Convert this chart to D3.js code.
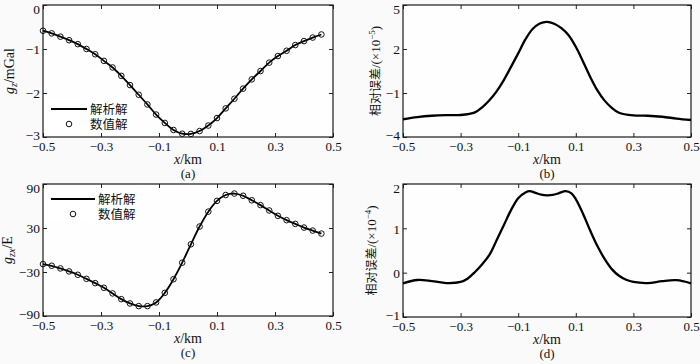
<!DOCTYPE html>
<html><head><meta charset="utf-8">
<script src="https://cdn.jsdelivr.net/npm/d3@7"></script>
<style>
html,body{margin:0;padding:0;background:#fafafa;}
svg{display:block;}
text{font-family:"Liberation Serif","Times New Roman",serif;fill:#111;}
.cjk{font-family:"Noto Sans CJK SC","Noto Sans",sans-serif;}
</style></head>
<body>
<svg id="chart" width="700" height="364"></svg>
<script>
// ---- data ----
const xTicks = [-0.5, -0.3, -0.1, 0.1, 0.3, 0.5];
const xTickLabels = ["−0.5", "−0.3", "−0.1", "0.1", "0.3", "0.5"];

const gzTicks = [0, -1, -2, -3];
const gzTickLabels = ["0", "−1", "−2", "−3"];
const errBTicks = [5, 2, -1, -4];
const errBTickLabels = ["5", "2", "−1", "−4"];
const gzxTicks = [90, 30, -30, -90];
const gzxTickLabels = ["90", "30", "−30", "−90"];
const errDTicks = [2, 1, 0, -1];
const errDTickLabels = ["2", "1", "0", "−1"];

const sampleX = [-0.50, -0.47, -0.44, -0.41, -0.38, -0.35, -0.32, -0.29, -0.26, -0.23, -0.20,
  -0.17, -0.14, -0.11, -0.08, -0.05, -0.02, 0.01, 0.04, 0.07, 0.10, 0.13, 0.16, 0.19, 0.22,
  0.25, 0.28, 0.31, 0.34, 0.37, 0.40, 0.43, 0.46];

// g_z (mGal): analytic and numeric
const gzAnalytic = [-0.585, -0.645, -0.72, -0.80, -0.89, -1.00, -1.12, -1.27, -1.42, -1.61, -1.82,
  -2.04, -2.26, -2.49, -2.68, -2.84, -2.925, -2.93, -2.865, -2.74, -2.57, -2.35, -2.13, -1.90,
  -1.69, -1.50, -1.31, -1.16, -1.04, -0.91, -0.82, -0.74, -0.67];
const gzNumeric = [-0.585, -0.645, -0.72, -0.80, -0.89, -1.00, -1.12, -1.27, -1.42, -1.61, -1.82,
  -2.04, -2.26, -2.49, -2.68, -2.84, -2.925, -2.93, -2.865, -2.74, -2.57, -2.35, -2.13, -1.90,
  -1.69, -1.50, -1.31, -1.16, -1.04, -0.91, -0.82, -0.74, -0.67];

// g_zx (E): analytic and numeric
const gzxAnalytic = [-19.2, -21.5, -25.1, -29.2, -33.8, -39.3, -45.2, -51.5, -59.2, -67.0, -72.9,
  -76.5, -76.5, -71.5, -58.5, -39.8, -17.3, 7.8, 32.0, 52.3, 67.0, 75.0, 77.0, 74.0, 67.8,
  61.2, 53.9, 46.6, 40.7, 35.6, 30.6, 26.5, 22.4];
const gzxNumeric = [-19.2, -21.5, -25.1, -29.2, -33.8, -39.3, -45.2, -51.5, -59.2, -67.0, -72.9,
  -76.5, -76.5, -71.5, -58.5, -39.8, -17.3, 7.8, 32.0, 52.3, 67.0, 75.0, 77.0, 74.0, 67.8,
  61.2, 53.9, 46.6, 40.7, 35.6, 30.6, 26.5, 22.4];

// relative error of g_z (x1e-5)
const errBX = [-0.5, -0.45, -0.4, -0.35, -0.3, -0.25, -0.225, -0.2, -0.175, -0.15, -0.125, -0.1,
  -0.075, -0.05, -0.025, 0, 0.025, 0.05, 0.075, 0.1, 0.125, 0.15, 0.175, 0.2, 0.225, 0.25,
  0.3, 0.35, 0.4, 0.45, 0.5];
const errB = [-2.79, -2.64, -2.55, -2.51, -2.50, -2.32, -1.98, -1.50, -0.89, -0.12, 0.78, 1.70,
  2.65, 3.36, 3.74, 3.85, 3.72, 3.42, 2.94, 2.15, 1.15, 0.10, -0.82, -1.52, -2.01, -2.35,
  -2.53, -2.55, -2.62, -2.74, -2.84];

// relative error of g_zx (x1e-4)
const errDX = [-0.5, -0.45, -0.4, -0.35, -0.3, -0.275, -0.25, -0.225, -0.2, -0.175, -0.15, -0.125,
  -0.1, -0.075, -0.06, -0.04, -0.02, 0, 0.02, 0.04, 0.065, 0.085, 0.1, 0.125, 0.15, 0.175,
  0.2, 0.225, 0.25, 0.275, 0.3, 0.35, 0.4, 0.45, 0.5];
const errD = [-0.24, -0.165, -0.19, -0.235, -0.21, -0.13, 0.015, 0.19, 0.40, 0.73, 1.07, 1.41,
  1.68, 1.81, 1.84, 1.80, 1.76, 1.745, 1.755, 1.79, 1.84, 1.79, 1.66, 1.33, 0.95, 0.60,
  0.31, 0.08, -0.07, -0.16, -0.21, -0.235, -0.19, -0.17, -0.24];

const legendLabels = ["解析解", "数值解"];

// ---- drawing ----
const svg = d3.select("#chart");

function panel(opt) {
  const x = d3.scaleLinear().domain([-0.5, 0.5]).range([opt.x0, opt.x1]);
  const y = d3.scaleLinear().domain(opt.yDomain).range([opt.y1, opt.y0]);
  const g = svg.append("g");

  g.append("rect").attr("x", opt.x0).attr("y", opt.y0)
    .attr("width", opt.x1 - opt.x0).attr("height", opt.y1 - opt.y0)
    .attr("fill", "#fefefe");

  // axes
  const fmtX = (d, i) => xTickLabels[i];
  const fmtY = (d, i) => opt.yLabels[i];
  const bottom = g.append("g").attr("transform", `translate(0,${opt.y1})`)
    .call(d3.axisBottom(x).tickValues(xTicks).tickFormat(fmtX).tickSizeInner(-4).tickSizeOuter(0).tickPadding(5));
  const top = g.append("g").attr("transform", `translate(0,${opt.y0})`)
    .call(d3.axisTop(x).tickValues(xTicks).tickFormat("").tickSizeInner(-4).tickSizeOuter(0));
  const left = g.append("g").attr("transform", `translate(${opt.x0},0)`)
    .call(d3.axisLeft(y).tickValues(opt.yTicks).tickFormat(fmtY).tickSizeInner(-4).tickSizeOuter(0).tickPadding(3));
  const right = g.append("g").attr("transform", `translate(${opt.x1},0)`)
    .call(d3.axisRight(y).tickValues(opt.yTicks).tickFormat("").tickSizeInner(-4).tickSizeOuter(0));
  [bottom, top, left, right].forEach(a => {
    a.select(".domain").remove();
    a.selectAll(".tick line").attr("stroke", "#222").attr("stroke-width", 1);
    a.selectAll("text").attr("font-family", "Liberation Serif, serif").attr("font-size", 13.5).attr("fill", "#111");
  });
  bottom.selectAll("text").attr("font-size", 13);
  left.selectAll("text").attr("dy", d => {
    const py = y(d);
    if (py - opt.y0 < 4) return "0.62em";
    if (opt.y1 - py < 4) return "0.16em";
    return "0.36em";
  });

  // frame
  g.append("rect").attr("x", opt.x0).attr("y", opt.y0)
    .attr("width", opt.x1 - opt.x0).attr("height", opt.y1 - opt.y0)
    .attr("fill", "none").attr("stroke", "#1a1a1a").attr("stroke-width", 1.2);

  // line
  const lineData = opt.lineX.map((d, i) => [d, opt.lineY[i]]);
  g.append("path").datum(lineData)
    .attr("d", d3.line().x(d => x(d[0])).y(d => y(d[1])).curve(d3.curveCatmullRom.alpha(0.5)))
    .attr("fill", "none").attr("stroke", "#000").attr("stroke-width", opt.lineWidth);

  // circles
  if (opt.ptsY) {
    const pts = opt.ptsX.map((d, i) => [d, opt.ptsY[i]]);
    g.selectAll("circle.pt").data(pts).enter().append("circle").attr("class", "pt")
      .attr("cx", d => x(d[0])).attr("cy", d => y(d[1])).attr("r", 2.8)
      .attr("fill", "none").attr("stroke", "#111").attr("stroke-width", 1);
  }

  // x label and panel tag
  const cx = (opt.x0 + opt.x1) / 2;
  const xl = g.append("text").attr("x", cx).attr("y", opt.y1 + 27).attr("text-anchor", "middle")
    .attr("font-size", 14);
  xl.append("tspan").attr("font-style", "italic").text("x");
  xl.append("tspan").text("/km");
  g.append("text").attr("x", cx).attr("y", opt.y1 + 41).attr("text-anchor", "middle")
    .attr("font-size", 13).text(opt.tag);

  // y label
  const yl = g.append("text")
    .attr("transform", `translate(${opt.ylx},${(opt.y0 + opt.y1) / 2}) rotate(-90)`)
    .attr("text-anchor", "middle").attr("font-size", 14);
  opt.yLabel(yl);

  // legend
  if (opt.legend) {
    const L = opt.legend;
    g.append("rect").attr("x", L.x - 4).attr("y", L.y - 9).attr("width", L.w).attr("height", 32)
      .attr("fill", "#ffffff");
    g.append("line").attr("x1", L.x).attr("x2", L.x + L.len).attr("y1", L.y).attr("y2", L.y)
      .attr("stroke", "#000").attr("stroke-width", 1.8);
    g.append("circle").attr("cx", L.x + L.len / 2 + L.cdx).attr("cy", L.y + 15).attr("r", 2.8)
      .attr("fill", "none").attr("stroke", "#111").attr("stroke-width", 1);
    g.append("text").attr("class", "cjk").attr("x", L.x + L.len + 3).attr("y", L.y).attr("dy", "0.36em")
      .attr("font-size", 12.5).attr("fill", "#333").text(legendLabels[0]);
    g.append("text").attr("class", "cjk").attr("x", L.x + L.len + 3).attr("y", L.y + 15).attr("dy", "0.36em")
      .attr("font-size", 12.5).attr("fill", "#333").text(legendLabels[1]);
  }
}

function subLabel(sym, sub, unit) {
  return t => {
    t.append("tspan").attr("font-style", "italic").text(sym);
    t.append("tspan").attr("font-style", "italic").attr("font-size", 10).attr("dy", 3).text(sub);
    t.append("tspan").attr("dy", -3).text(unit);
  };
}
function errLabel(exp) {
  return t => {
    t.attr("font-size", 13).attr("fill", "#444");
    t.append("tspan").attr("class", "cjk").attr("font-size", 12).text("相对误差");
    t.append("tspan").text("/(×10");
    t.append("tspan").attr("font-size", 9).attr("dy", -5).text(exp);
    t.append("tspan").attr("dy", 5).text(")");
  };
}

panel({x0: 43, x1: 333, y0: 5, y1: 137, yDomain: [-3, 0], yTicks: gzTicks, yLabels: gzTickLabels,
  lineX: sampleX, lineY: gzAnalytic, ptsX: sampleX, ptsY: gzNumeric, lineWidth: 1.8, tag: "(a)",
  ylx: 14, yLabel: subLabel("g", "z", "/mGal"),
  legend: {x: 51, y: 109, len: 36, w: 82, cdx: 0}});

panel({x0: 403, x1: 691, y0: 5, y1: 137, yDomain: [-4, 5], yTicks: errBTicks, yLabels: errBTickLabels,
  lineX: errBX, lineY: errB, lineWidth: 2.3, tag: "(b)",
  ylx: 380, yLabel: errLabel("−5")});

panel({x0: 43, x1: 333, y0: 184, y1: 316, yDomain: [-90, 90], yTicks: gzxTicks, yLabels: gzxTickLabels,
  lineX: sampleX, lineY: gzxAnalytic, ptsX: sampleX, ptsY: gzxNumeric, lineWidth: 1.8, tag: "(c)",
  ylx: 12, yLabel: subLabel("g", "zx", "/E"),
  legend: {x: 51, y: 199, len: 44, w: 96, cdx: 0}});

panel({x0: 403, x1: 691, y0: 184, y1: 317, yDomain: [-1, 2], yTicks: errDTicks, yLabels: errDTickLabels,
  lineX: errDX, lineY: errD, lineWidth: 2.3, tag: "(d)",
  ylx: 376, yLabel: errLabel("−4")});
</script>
</body></html>
